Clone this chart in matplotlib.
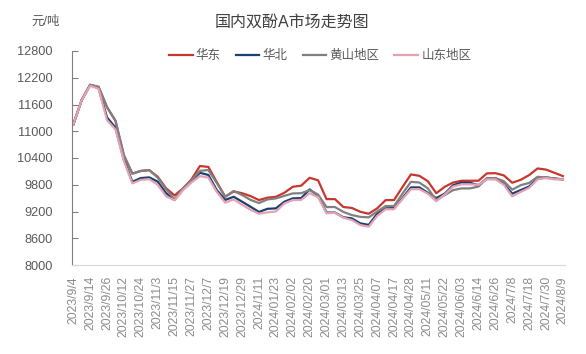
import matplotlib
matplotlib.use("Agg")
import matplotlib.pyplot as plt
import numpy as np

plt.rcParams['font.family'] = ['Liberation Sans', 'Noto Sans CJK SC', 'DejaVu Sans']

# category labels (every 8th trading day)
tick_labels = ["2023/9/4", "2023/9/14", "2023/9/26", "2023/10/12", "2023/10/24", "2023/11/3",
               "2023/11/15", "2023/11/27", "2023/12/7", "2023/12/19", "2023/12/29", "2024/1/11",
               "2024/01/23", "2024/02/02", "2024/02/20", "2024/03/01", "2024/03/13", "2024/03/25",
               "2024/04/07", "2024/04/17", "2024/04/28", "2024/05/11", "2024/05/22", "2024/06/03",
               "2024/6/14", "2024/6/26", "2024/7/8", "2024/7/18", "2024/7/30", "2024/8/9"]

# values sampled every 4 trading days (yuan/ton)
huadong = [11150, 11700, 12040, 11990, 11540, 11230, 10440, 10050, 10110, 10128,
           9980, 9720, 9560, 9718, 9920, 10220, 10200, 9860, 9530, 9650,
           9610, 9546, 9456, 9510, 9530, 9620, 9754, 9780, 9956, 9900,
           9478, 9478, 9300, 9280, 9194, 9150, 9270, 9456, 9456, 9750,
           10032, 10000, 9880, 9610, 9754, 9850, 9890, 9890, 9890, 10055,
           10060, 10010, 9845, 9910, 10016, 10166, 10140, 10068, 9994]
huabei = [11150, 11700, 12040, 11970, 11310, 11080, 10360, 9866, 9950, 9965,
          9870, 9610, 9460, 9700, 9880, 10068, 10020, 9680, 9460, 9530,
          9420, 9306, 9190, 9260, 9270, 9418, 9494, 9500, 9696, 9550,
          9176, 9176, 9070, 9046, 8934, 8900, 9150, 9270, 9280, 9500,
          9740, 9740, 9620, 9500, 9600, 9790, 9850, 9845, 9790, 9942,
          9950, 9820, 9600, 9680, 9760, 9940, 9964, 9940, 9920]
huangshan = [11150, 11700, 12040, 12000, 11540, 11240, 10470, 10050, 10110, 10128,
             9960, 9700, 9470, 9718, 9900, 10112, 10130, 9840, 9530, 9660,
             9570, 9460, 9390, 9470, 9494, 9550, 9606, 9610, 9680, 9580,
             9300, 9300, 9190, 9120, 9080, 9068, 9200, 9322, 9322, 9600,
             9866, 9850, 9720, 9456, 9568, 9680, 9718, 9718, 9760, 9942,
             9950, 9880, 9690, 9790, 9840, 9978, 9964, 9940, 9920]
shandong = [11150, 11700, 12020, 11950, 11250, 11040, 10330, 9830, 9910, 9926,
            9800, 9540, 9450, 9680, 9850, 9994, 9960, 9640, 9400, 9470,
            9350, 9240, 9150, 9180, 9200, 9380, 9456, 9460, 9610, 9520,
            9160, 9170, 9060, 9008, 8896, 8860, 9100, 9250, 9250, 9480,
            9700, 9700, 9600, 9430, 9580, 9760, 9810, 9810, 9800, 9920,
            9920, 9800, 9540, 9640, 9730, 9920, 9950, 9920, 9920]

series_names = ["华东", "华北", "黄山地区", "山东地区"]
colors = ["#C8372D", "#1B3F73", "#808080", "#E6A2B2"]

fig = plt.figure(figsize=(5.86, 3.54), dpi=100)
ax = fig.add_axes([72 / 586, 1 - 265 / 354, (565 - 72) / 586, (265 - 51) / 354])

x = np.arange(len(huadong)) * 4
for vals, name, c in zip([huadong, huabei, huangshan, shandong], series_names, colors):
    ax.plot(x, vals, color=c, lw=1.6, label=name, solid_joinstyle='round')

ax.set_xlim(-0.6, 233)
ax.set_ylim(8000, 12800)
ax.set_yticks(np.arange(8000, 12801, 600))
ax.set_xticks(np.arange(0, 8 * len(tick_labels), 8))
ax.set_xticklabels(tick_labels, rotation=90, fontsize=8.8, color="#8C8C8C")
ax.tick_params(axis='x', length=0, pad=8)
ax.tick_params(axis='y', direction='in', length=4, color="#808080", labelsize=9.2,
               labelcolor="#595959", pad=14)
for s in ["top", "right"]:
    ax.spines[s].set_visible(False)
ax.spines["left"].set_color("#808080")
ax.spines["bottom"].set_color("#D9D9D9")

fig.text(292 / 586, 1 - 22 / 354, "国内双酚A市场走势图", ha='center', va='center',
         fontsize=11.5, color="#404040")
fig.text(46 / 586, 1 - 22 / 354, "元/吨", ha='center', va='center', fontsize=9, color="#595959")

fig.legend(loc='center', bbox_to_anchor=(320 / 586, 1 - 56 / 354), ncol=4, frameon=False,
           fontsize=9, labelcolor="#595959", handlelength=1.9, handletextpad=0.25,
           columnspacing=1.2)

fig.savefig("out.png", dpi=100)
